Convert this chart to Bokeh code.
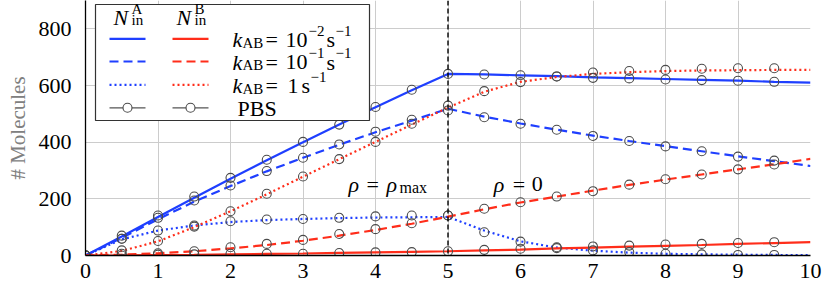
from bokeh.plotting import figure
from bokeh.models import Range1d, FixedTicker, Span
from bokeh.core.properties import value
from bokeh.embed import file_html
from bokeh.resources import INLINE

# ---------------- data ----------------
t_line = [0, 0.5, 1, 1.5, 2, 2.5, 3, 3.5, 4, 4.5, 5, 5.5, 6, 6.5, 7, 7.5, 8, 8.5, 9, 9.5, 10]
A_slow = [0, 67, 136, 204, 271, 336, 400, 462, 523, 583, 641, 639, 636, 633, 629, 626, 623, 620, 617, 613, 610]
A_mid = [0, 62, 128, 190, 245, 297, 345, 391, 435, 476, 518, 490, 466, 444, 423, 404, 386, 368, 350, 333, 316]
A_fast = [0, 57, 88, 106, 118, 125, 129, 132, 134, 135, 136, 88, 50, 28, 17, 10, 6, 4, 3, 2, 1]
B_slow = [0, 0.5, 1.5, 2.5, 4, 5.5, 7, 9, 11, 13, 15, 18, 21, 25, 28, 31, 34, 37, 41, 44, 47]
B_mid = [0, 3, 8, 15, 25, 37, 52, 70, 90, 112, 137, 163, 187, 208, 229, 249, 268, 286, 304, 322, 341]
B_fast = [0, 16, 50, 100, 156, 216, 278, 340, 401, 462, 522, 578, 613, 630, 641, 647, 651, 653, 654, 655, 655]

t_pbs = [0, 0.5, 1, 1.5, 2, 2.5, 3, 3.5, 4, 4.5, 5, 5.5, 6, 6.5, 7, 7.5, 8, 8.5, 9, 9.5]
A_slow_pbs = [0, 70, 141, 208, 274, 338, 401, 462, 524, 585, 641, 639, 636, 632, 627, 625, 621, 619, 617, 613]
A_mid_pbs = [0, 59, 133, 194, 247, 298, 345, 392, 437, 479, 512, 488, 465, 444, 422, 404, 385, 368, 349, 335]
A_fast_pbs = [0, 59, 88, 106, 121, 127, 129, 133, 138, 141, 141, 82, 49, 26, 18, 12, 6, 4, 2, 2]
B_slow_pbs = [0, 0, 3, 4, 6, 6, 6, 9, 11, 12, 15, 20, 24, 29, 32, 35, 39, 41, 44, 47]
B_mid_pbs = [0, 6, 8, 15, 29, 41, 55, 76, 93, 114, 141, 165, 188, 208, 227, 250, 269, 286, 304, 321]
B_fast_pbs = [0, 18, 51, 102, 156, 218, 279, 340, 401, 465, 529, 580, 612, 632, 646, 651, 655, 659, 661, 661]

x_ticks = [0, 1, 2, 3, 4, 5, 6, 7, 8, 9, 10]
y_ticks = [0, 200, 400, 600, 800]
switch_time = 5
rate_exps = ["\u22122", "\u22121", None]   # 10^-2, 10^-1, 1
y_label = "# Molecules"

# ---------------- style ----------------
FONT = "'Liberation Serif', 'DejaVu Serif', serif"
BLUE = "#1f3fff"
RED = "#ff2d1a"
CIRC = "#4a4a4a"
DASHES = [None, "9 5", "2 3"]
TSHIFT = -6  # baseline correction (px)

FW, FH = 725, 255
p = figure(frame_width=FW, frame_height=FH,
           x_range=Range1d(0, 10), y_range=Range1d(0, 900),
           output_backend="svg", toolbar_location=None,
           min_border_left=85, min_border_right=20, min_border_top=0, min_border_bottom=31)
p.outline_line_color = None
p.background_fill_color = "white"
p.extra_x_ranges = {"px": Range1d(0, FW)}
p.extra_y_ranges = {"py": Range1d(FH, 0)}

p.xaxis.ticker = FixedTicker(ticks=x_ticks)
p.yaxis.ticker = FixedTicker(ticks=y_ticks)
for ax in (p.xaxis, p.yaxis):
    ax.major_label_text_font = FONT
    ax.major_label_text_color = "black"
    ax.major_tick_line_color = None
    ax.minor_tick_line_color = None
    ax.axis_line_color = "black"
    ax.axis_line_width = 1.3
    ax.major_label_text_font_size = "22px"
p.xaxis.major_label_standoff = 2
p.yaxis.major_label_standoff = 8
p.yaxis.axis_label = y_label
p.yaxis.axis_label_text_font = FONT
p.yaxis.axis_label_text_font_size = "21px"
p.yaxis.axis_label_text_font_style = "normal"
p.yaxis.axis_label_text_color = "#808080"
p.yaxis.axis_label_standoff = 6
p.grid.grid_line_color = "#cccccc"
p.grid.grid_line_width = 1

p.add_layout(Span(location=switch_time, dimension="height", line_color="black",
                  line_width=1.4, line_dash="5 3", level="glyph"))

A_lines = [A_slow, A_mid, A_fast]
B_lines = [B_slow, B_mid, B_fast]
for ys, d in zip(A_lines, DASHES):
    p.line(t_line, ys, line_color=BLUE, line_width=2.2, line_dash=d if d else "solid")
for ys, d in zip(B_lines, DASHES):
    p.line(t_line, ys, line_color=RED, line_width=2.2, line_dash=d if d else "solid")

for ys in [A_slow_pbs, A_mid_pbs, A_fast_pbs, B_slow_pbs, B_mid_pbs, B_fast_pbs]:
    p.scatter(t_pbs, ys, marker="circle", size=9, fill_color=None,
              line_color=CIRC, line_width=1.1)


def txt(x, y, s, size, style="normal", xo=0, yo=0, screen=False, color="black"):
    kw = dict(x_range_name="px", y_range_name="py") if screen else {}
    p.text(x=[x], y=[y], text=[s], text_font=value(FONT), text_font_size=f"{size}px",
           text_font_style=style, text_color=color, text_align="left",
           text_baseline="alphabetic", x_offset=xo, y_offset=yo + TSHIFT, **kw)


# annotations inside plot (rho labels)
ax1, ay = 3.628, 229.5
txt(ax1, ay, "\u03c1", 22, "italic")
txt(ax1, ay, "=", 22, xo=18)
txt(ax1, ay, "\u03c1", 22, "italic", xo=38)
txt(ax1, ay, "max", 16, xo=51, yo=3)
ax2 = 5.632
txt(ax2, ay, "\u03c1", 22, "italic")
txt(ax2, ay, "=", 22, xo=19)
txt(ax2, ay, "0", 22, xo=38)

# ---------------- legend (frame pixel coordinates) ----------------
p.quad(left=[10], right=[284], top=[4], bottom=[120], fill_color="white",
       line_color="#333333", line_width=1.2, x_range_name="px", y_range_name="py")

for x0, sup in [(28, "A"), (91, "B")]:
    txt(x0, 22.7, "N", 22, "italic", screen=True)
    txt(x0 + 18, 14, sup, 15, screen=True)
    txt(x0 + 18, 25.5, "in", 15, screen=True)

row_y = [38.3, 61, 84.3]
for i, (yy, d, e) in enumerate(zip(row_y, DASHES, rate_exps)):
    p.line([24, 60], [yy, yy], line_color=BLUE, line_width=2.2, line_dash=d if d else "solid",
           x_range_name="px", y_range_name="py")
    p.line([87, 123], [yy, yy], line_color=RED, line_width=2.2, line_dash=d if d else "solid",
           x_range_name="px", y_range_name="py")
    base = yy + 6.8
    txt(147, base, "k", 22, "italic", screen=True)
    txt(157, base + 3, "AB", 15, screen=True)
    txt(180, base, "=", 22, screen=True)
    if e is not None:
        txt(200, base, "10", 22, screen=True)
        txt(223, base - 9, e, 15, screen=True)
        txt(241, base, "s", 22, screen=True)
        txt(250, base - 9, "\u22121", 15, screen=True)
    else:
        txt(202, base, "1", 22, screen=True)
        txt(216, base, "s", 22, screen=True)
        txt(225, base - 9, "\u22121", 15, screen=True)

yy = 107.3
for xa, xb in [(24, 60), (87, 123)]:
    p.line([xa, xb], [yy, yy], line_color="#555555", line_width=1.3,
           x_range_name="px", y_range_name="py")
    p.scatter([(xa + xb) / 2], [yy], marker="circle", size=9, fill_color="white",
              line_color=CIRC, line_width=1.1, x_range_name="px", y_range_name="py")
txt(152, 113.5, "PBS", 22, screen=True)

open("out.html", "w").write(file_html(p, INLINE))
